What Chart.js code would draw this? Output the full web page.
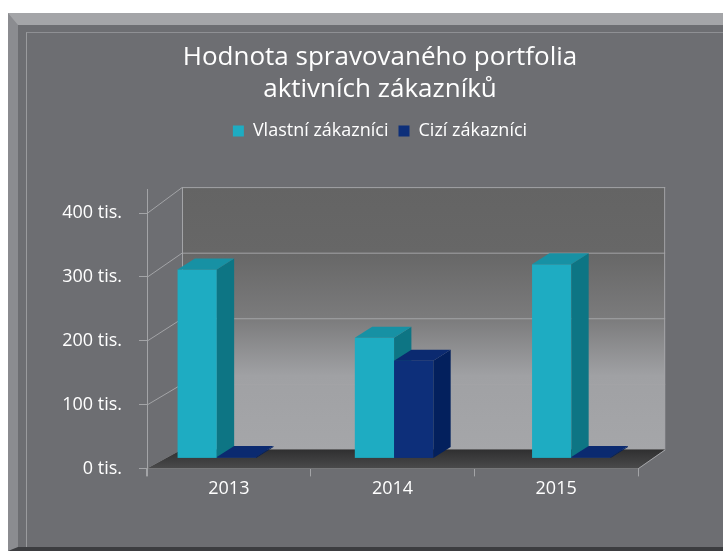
<!DOCTYPE html>
<html>
<head>
<meta charset="utf-8">
<title>Hodnota spravovaného portfolia</title>
<script src="https://cdn.jsdelivr.net/npm/chart.js@4.4.1/dist/chart.umd.min.js"></script>
<style>
	body { margin: 0; background: #ffffff; overflow: hidden; }
	#panel {
		position: absolute; left: 8px; top: 13px; width: 715px; height: 538px;
		box-sizing: border-box; background: #6d6e72;
		border-top: 12px solid #a4a5a8; border-left: 10px solid #8b8c90; border-bottom: 4px solid #3c3d40;
	}
	#inner {
		position: absolute; left: 26px; top: 32px; width: 697px; height: 515px;
		box-sizing: border-box; border-top: 1px solid #8f9094; border-left: 1px solid #9a9b9e;
	}
	#wrap { position: absolute; left: 0; top: 0; width: 723px; height: 551px; }
</style>
</head>
<body>
<div id="panel"></div>
<div id="inner"></div>
<div id="wrap"><canvas id="myChart" width="723" height="551"></canvas></div>

<script type="text/javascript">
	// data
	let years = ['2013', '2014', '2015'];
	let vlastni = [296000, 189000, 304000];
	let cizi = [2000, 153000, 2000];
	let seriesNames = ['Vlastní zákazníci', 'Cizí zákazníci'];
	let titleLines = ['Hodnota spravovaného portfolia', 'aktivních zákazníků'];
	let yTicks = [0, 100000, 200000, 300000, 400000];

	let fontName = '"Open Sans"';
	let lineCol = '#a3a4a7';

	// colours of the 3d faces: front, side, top
	let faces = [
		{front: '#1eacc2', side: '#0d7584', top: '#1791a4'},
		{front: '#0d2f7a', side: '#03205d', top: '#0b2a70'}
	];

	// back wall is the front plane pushed back and a bit shrunk
	function back(area, x, y) {
		let bx = area.left + 35 + (x - area.left) * 0.984;
		let by = area.bottom - 19 + (y - area.bottom) * 1.027;
		return {x: bx, y: by};
	}

	function drawBar(ctx, el, f) {
		let dx = 16, dy = -11;
		let l = el.x - el.width / 2;
		let r = el.x + el.width / 2;
		let t = el.y;
		let b = el.base;
		ctx.fillStyle = f.front;
		ctx.fillRect(l, t, r - l, b - t);
		ctx.fillStyle = f.side;
		ctx.beginPath();
		ctx.moveTo(r, t);
		ctx.lineTo(r + dx, t + dy);
		ctx.lineTo(r + dx, b + dy);
		ctx.lineTo(r, b);
		ctx.closePath();
		ctx.fill();
		ctx.fillStyle = f.top;
		ctx.beginPath();
		ctx.moveTo(l, t);
		ctx.lineTo(l + dx, t + dy);
		ctx.lineTo(r + dx, t + dy);
		ctx.lineTo(r, t);
		ctx.closePath();
		ctx.fill();
	}

	let box3d = {
		id: 'box3d',
		beforeInit(chart) {
			// leave room between legend and plot
			let fit = chart.legend.fit;
			chart.legend.fit = function() {
				fit.call(this);
				this.height += 63;
			};
		},
		beforeDatasetsDraw(chart) {
			let ctx = chart.ctx;
			let a = chart.chartArea;
			let ys = chart.scales.y;
			let bl = back(a, a.left, a.bottom);
			let br = back(a, a.right, a.bottom);
			let tl = back(a, a.left, a.top);
			let tr = back(a, a.right, a.top);

			ctx.save();
			// back wall
			let g = ctx.createLinearGradient(0, tl.y, 0, bl.y);
			g.addColorStop(0, '#646464');
			g.addColorStop(0.25, '#676767');
			g.addColorStop(0.5, '#7b7b7c');
			g.addColorStop(0.72, '#a0a1a4');
			g.addColorStop(1, '#a5a6a9');
			ctx.fillStyle = g;
			ctx.fillRect(tl.x, tl.y, tr.x - tl.x, bl.y - tl.y);

			ctx.strokeStyle = lineCol;
			ctx.lineWidth = 1;
			for (let v of yTicks) {
				let fy = ys.getPixelForValue(v);
				let p1 = back(a, a.left, fy);
				let p2 = back(a, a.right, fy);
				ctx.beginPath();
				ctx.moveTo(p1.x, p1.y + 0.5);
				ctx.lineTo(p2.x, p2.y + 0.5);
				ctx.stroke();
				// side wall lines
				ctx.beginPath();
				ctx.moveTo(a.left, fy + 0.5);
				ctx.lineTo(p1.x, p1.y + 0.5);
				ctx.stroke();
			}
			ctx.beginPath();
			ctx.moveTo(tl.x + 0.5, tl.y);
			ctx.lineTo(bl.x + 0.5, bl.y);
			ctx.moveTo(tr.x - 0.5, tr.y);
			ctx.lineTo(br.x - 0.5, br.y);
			ctx.stroke();

			// floor
			let fg = ctx.createLinearGradient(0, bl.y, 0, a.bottom);
			fg.addColorStop(0, '#2f2f30');
			fg.addColorStop(1, '#4a4a4b');
			ctx.fillStyle = fg;
			ctx.beginPath();
			ctx.moveTo(a.left, a.bottom);
			ctx.lineTo(a.right, a.bottom);
			ctx.lineTo(br.x, br.y);
			ctx.lineTo(bl.x, bl.y);
			ctx.closePath();
			ctx.fill();
			ctx.beginPath();
			ctx.moveTo(a.right, a.bottom + 0.5);
			ctx.lineTo(br.x, br.y + 0.5);
			ctx.stroke();

			// front axis line
			ctx.beginPath();
			ctx.moveTo(a.left + 0.5, a.top - 24);
			ctx.lineTo(a.left + 0.5, a.bottom + 8);
			ctx.stroke();
			ctx.restore();

			// bars as 3d boxes, from the bar elements the library laid out;
			// they stand mid-depth and spread out a little with perspective
			ctx.save();
			ctx.translate(-31, -10);
			ctx.scale(1.083, 1);
			let metas = chart.data.datasets.map((d, i) => chart.getDatasetMeta(i));
			for (let c = 0; c < years.length; c++) {
				for (let i = 0; i < metas.length; i++) {
					drawBar(ctx, metas[i].data[c], faces[i]);
				}
			}
			ctx.restore();
			// skip the default flat bars
			return false;
		}
	};

	let ctx = document.getElementById('myChart');

	let myChart = new Chart(ctx, {
		type: 'bar',
		data: {
			labels: years,
			datasets: [
				{label: seriesNames[0], data: vlastni, backgroundColor: faces[0].front, borderWidth: 0},
				{label: seriesNames[1], data: cizi, backgroundColor: faces[1].front, borderWidth: 0}
			]
		},
		plugins: [box3d],
		options: {
			responsive: false,
			animation: false,
			devicePixelRatio: 1,
			categoryPercentage: 0.443,
			barPercentage: 1.0,
			layout: {padding: {left: 37, right: 0, top: 0, bottom: 49}},
			plugins: {
				tooltip: {enabled: false},
				title: {
					display: true,
					text: titleLines,
					color: '#ffffff',
					font: {family: fontName, size: 26, weight: 'normal', lineHeight: 1.25},
					padding: {top: 41, bottom: 6}
				},
				legend: {
					display: true,
					labels: {
						color: '#ffffff',
						boxWidth: 11,
						boxHeight: 11,
						padding: 10,
						font: {family: fontName, size: 18}
					}
				}
			},
			scales: {
				x: {
					grid: {drawOnChartArea: false, offset: true, tickLength: 8, color: lineCol},
					border: {display: true, color: lineCol},
					ticks: {color: '#ffffff', padding: 2, font: {family: fontName, size: 18}}
				},
				y: {
					min: 0,
					max: 400000,
					grid: {drawOnChartArea: false, tickLength: 8, color: lineCol},
					border: {display: false},
					ticks: {
						stepSize: 100000,
						color: '#ffffff',
						padding: 17,
						font: {family: fontName, size: 18},
						callback: function(v) { return (v / 1000) + ' tis.'; }
					},
					afterFit: function(s) { s.width = 110; }
				},
				yRight: {
					position: 'right',
					display: true,
					grid: {display: false},
					border: {display: false},
					ticks: {display: false},
					afterFit: function(s) { s.width = 85; }
				}
			}
		}
	});
</script>
</body>
</html>
